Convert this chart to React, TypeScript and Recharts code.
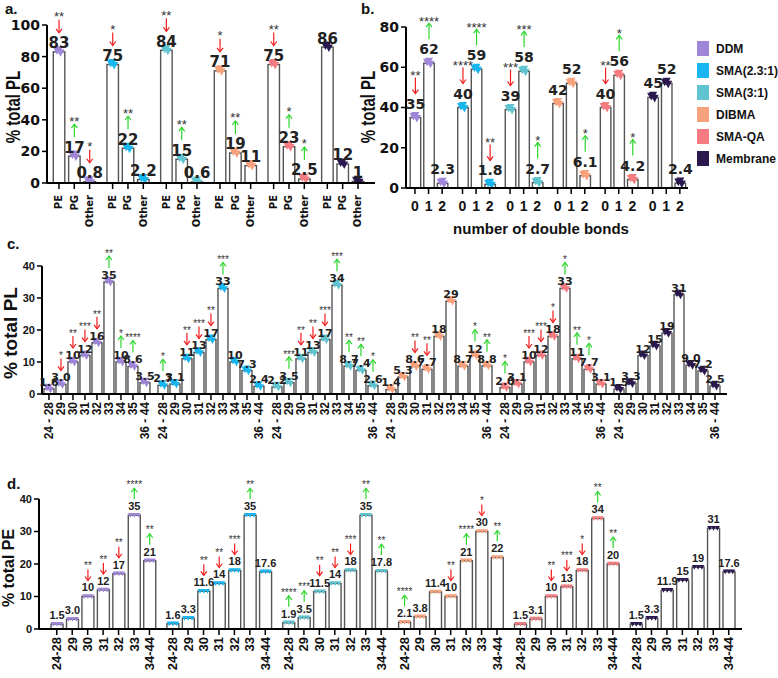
import React from 'react';
import { BarChart, Bar, XAxis, YAxis, LabelList } from 'recharts';

const SANS = '"Liberation Sans", Arial, sans-serif';
const WIDE = '"DejaVu Sans", "Liberation Sans", sans-serif';
const RED = '#f41c1c';
const GREEN = '#2bd62b';

const extracts = ['DDM', 'SMA(2.3:1)', 'SMA(3:1)', 'DIBMA', 'SMA-QA', 'Membrane'];
const extractColors = ['#9f86d8', '#17b6f0', '#5fc4cf', '#f7a27c', '#f47c80', '#2a184f'];

// a. headgroups
const headgroups = ['PE', 'PG', 'Other'];
const pctHeadgroup = [[83, 17, 0.8], [75, 22, 2.2], [84, 15, 0.6], [71, 19, 11], [75, 23, 2.5], [86, 12, 1]];
const starsHeadgroup = [['**', '**', '*'], ['*', '**', ''], ['**', '**', ''], ['*', '**', ''], ['**', '*', '*'], ['', '', '']];
const dirHeadgroup = [['d', 'u', 'd'], ['d', 'u', ''], ['d', 'u', ''], ['d', 'u', ''], ['d', 'u', 'u'], ['', '', '']];

// b. double bonds
const bondCounts = ['0', '1', '2'];
const pctBonds = [[35, 62, 2.3], [40, 59, 1.8], [39, 58, 2.7], [42, 52, 6.1], [40, 56, 4.2], [45, 52, 2.4]];
const starsBonds = [['**', '****', ''], ['****', '****', '**'], ['***', '***', '*'], ['', '', '*'], ['**', '*', '*'], ['', '', '']];
const dirBonds = [['d', 'u', ''], ['d', 'u', 'd'], ['d', 'u', 'u'], ['', '', 'u'], ['d', 'u', 'u'], ['', '', '']];

// c. PL chain length
const chainPL = ['24 - 28', '29', '30', '31', '32', '33', '34', '35', '36 - 44'];
const pctChainPL = [
  [1.6, 3.0, 10, 12, 16, 35, 10, 8.6, 3.5],
  [2.7, 3.1, 11, 13, 17, 33, 10, 7.3, 2.4],
  [2.2, 3.5, 11, 13, 17, 34, 8.7, 7.4, 2.6],
  [1.4, 5.3, 8.6, 7.7, 18, 29, 8.7, 12, 8.8],
  [2.0, 3.1, 10, 12, 18, 33, 11, 7.7, 3.1],
  [1.5, 3.3, 12, 15, 19, 31, 9.0, 7.2, 2.5],
];
const starsChainPL = [
  ['', '*', '**', '***', '**', '**', '*', '****', ''],
  ['*', '', '**', '***', '**', '***', '', '', ''],
  ['', '***', '**', '**', '***', '***', '**', '**', '*'],
  ['', '', '**', '**', '', '', '', '*', '**'],
  ['*', '', '***', '***', '*', '*', '**', '*', ''],
  ['', '', '', '', '', '', '', '', ''],
];
const dirChainPL = [
  ['', 'd', 'd', 'd', 'd', 'u', 'u', 'u', ''],
  ['u', '', 'd', 'd', 'd', 'u', '', '', ''],
  ['', 'u', 'd', 'd', 'd', 'u', 'u', 'u', 'u'],
  ['', '', 'd', 'd', '', '', '', 'u', 'u'],
  ['u', '', 'd', 'd', 'd', 'u', 'u', 'u', ''],
  ['', '', '', '', '', '', '', '', ''],
];

// d. PE chain length
const chainPE = ['24-28', '29', '30', '31', '32', '33', '34-44'];
const pctChainPE = [
  [1.5, 3.0, 10, 12, 17, 35, 21],
  [1.6, 3.3, 11.6, 14, 18, 35, 17.6],
  [1.9, 3.5, 11.5, 14, 18, 35, 17.8],
  [2.1, 3.8, 11.4, 10, 21, 30, 22],
  [1.5, 3.1, 10, 13, 18, 34, 20],
  [1.5, 3.3, 11.9, 15, 19, 31, 17.6],
];
const starsChainPE = [
  ['', '', '**', '**', '**', '****', '**'],
  ['', '', '**', '**', '***', '**', ''],
  ['****', '***', '**', '**', '***', '**', '**'],
  ['****', '', '', '**', '****', '*', '**'],
  ['', '', '**', '***', '*', '**', '**'],
  ['', '', '', '', '', '', ''],
];
const dirChainPE = [
  ['', '', 'd', 'd', 'd', 'u', 'u'],
  ['', '', 'd', 'd', 'd', 'u', ''],
  ['u', 'u', 'd', 'd', 'd', 'u', 'u'],
  ['u', '', '', 'd', 'u', 'd', 'u'],
  ['', '', 'd', 'd', 'd', 'u', 'u'],
  ['', '', '', '', '', '', ''],
];

type Row = { i: number; x: number; g: number; cat: string; value: number; stars: string; dir: string };

function buildRows(cats: string[], values: number[][], stars: string[][], dirs: string[][]): Row[] {
  const rows: Row[] = [];
  values.forEach((vals, g) => {
    vals.forEach((v, k) => {
      rows.push({ i: rows.length, x: g * (cats.length + 0.5) + k, g, cat: cats[k], value: v, stars: stars[g][k], dir: dirs[g][k] });
    });
  });
  return rows;
}

const fmtPlain = (v: number) => String(v);
const fmtOne = (v: number) => (Number.isInteger(v) && v >= 10 ? String(v) : v.toFixed(1));

const rotTick = (family: string, size: number, dy: number) => (p: any, label: string) => (
  <text
    transform={`translate(${p.x},${p.y + dy}) rotate(-90)`}
    textAnchor="end"
    dominantBaseline="central"
    fontFamily={family}
    fontWeight={700}
    fontSize={size}
    fill="#111"
  >
    {label}
  </text>
);

const flatTick = (p: any, label: string) => (
  <text x={p.x} y={p.y + 15} textAnchor="middle" fontFamily={SANS} fontWeight={700} fontSize={14} fill="#111">
    {label}
  </text>
);

const makeShape = (st: any) => (props: any) => {
  const { x, y, width, height, payload } = props;
  if (x == null || y == null) return <g />;
  const color = extractColors[payload.g];
  const cx = x + width / 2;
  const s = st.marker;
  const tri = (dx: number, dy: number, k: number) => (
    <path
      key={k}
      d={`M${cx + dx - s / 2},${y + dy - s * 0.45} L${cx + dx + s / 2},${y + dy - s * 0.45} L${cx + dx},${y + dy + s * 0.5} Z`}
      fill={color}
    />
  );
  const marks = st.rowMarks
    ? [tri(-s * 0.75, 0, 0), tri(0, 0, 1), tri(s * 0.75, 0, 2)]
    : [tri(-2, -1, 0), tri(1.5, 1, 1), tri(0, -2, 2)];
  return (
    <g>
      <rect x={x} y={y} width={width} height={height} fill="#fff" stroke="#555" strokeWidth={1.4} />
      {marks}
    </g>
  );
};

const makeAnno = (rows: Row[], st: any) => (props: any) => {
  const r = rows[props.value];
  const vb = props.viewBox ?? props;
  if (!r || vb == null || vb.x == null) return null;
  const cx = vb.x + vb.width / 2;
  const top = vb.y;
  const color = r.dir === 'd' ? RED : GREEN;
  const yA = top - st.arrow[1];
  const yB = top - st.arrow[0];
  const h = 3;
  return (
    <g>
      {r.stars ? (
        <g>
          <text x={cx} y={top - st.starsAt + st.starFont * 0.57} textAnchor="middle" fontFamily={SANS} fontSize={st.starFont} fill="#333">
            {r.stars}
          </text>
          <line x1={cx} x2={cx} y1={yA} y2={yB} stroke={color} strokeWidth={1.2} />
          {r.dir === 'd' ? (
            <polyline points={`${cx - h},${yB - h - 1} ${cx},${yB} ${cx + h},${yB - h - 1}`} fill="none" stroke={color} strokeWidth={1.2} />
          ) : (
            <polyline points={`${cx - h},${yA + h + 1} ${cx},${yA} ${cx + h},${yA + h + 1}`} fill="none" stroke={color} strokeWidth={1.2} />
          )}
        </g>
      ) : null}
      <text x={cx} y={top - st.labelAt + st.labelFont * 0.36} textAnchor="middle" fontFamily={st.labelFamily} fontWeight={700} fontSize={st.labelFont} fill="#222">
        {st.fmt(r.value)}
      </text>
    </g>
  );
};

function Panel({ rows, st }: { rows: Row[]; st: any }) {
  const xs = rows.map((r) => r.x);
  const catAt = (v: number) => rows.find((r) => Math.abs(r.x - v) < 1e-6)?.cat ?? '';
  return (
    <div style={{ position: 'absolute', left: st.left, top: st.top }}>
      <BarChart width={st.width} height={st.height} data={rows} margin={{ top: st.mTop, right: st.mRight, bottom: 0, left: 0 }}>
        <XAxis
          type="number"
          dataKey="x"
          domain={st.domain}
          allowDataOverflow
          ticks={xs}
          interval={0}
          height={st.xHeight}
          axisLine={{ stroke: '#000', strokeWidth: 2 }}
          tickLine={{ stroke: '#000', strokeWidth: 1.5 }}
          tickSize={6}
          tick={(p: any) => st.tick(p, catAt(p.payload.value))}
        />
        <YAxis
          type="number"
          domain={[0, st.yMax]}
          allowDataOverflow
          ticks={st.yTicks}
          interval={0}
          width={st.yWidth}
          axisLine={{ stroke: '#000', strokeWidth: 2 }}
          tickLine={{ stroke: '#000', strokeWidth: 1.5 }}
          tickSize={5}
          tick={{ fontSize: st.yFont, fontFamily: st.yFamily, fontWeight: 700, fill: '#111' }}
        />
        <Bar dataKey="value" barSize={st.barSize} isAnimationActive={false} shape={makeShape(st)}>
          <LabelList dataKey="i" content={makeAnno(rows, st)} />
        </Bar>
      </BarChart>
    </div>
  );
}

const rowsA = buildRows(headgroups, pctHeadgroup, starsHeadgroup, dirHeadgroup);
const rowsB = buildRows(bondCounts, pctBonds, starsBonds, dirBonds);
const rowsC = buildRows(chainPL, pctChainPL, starsChainPL, dirChainPL);
const rowsD = buildRows(chainPE, pctChainPE, starsChainPE, dirChainPE);

const stA = {
  left: 0, top: 0, width: 377, height: 232, mTop: 25, mRight: 2, yWidth: 47, xHeight: 49,
  yMax: 100, yTicks: [0, 20, 40, 60, 80, 100], domain: [-0.78, 20.61], barSize: 11.5,
  yFont: 14, yFamily: WIDE, tick: rotTick(WIDE, 10, 4),
  labelAt: 9, labelFont: 15, labelFamily: WIDE, arrow: [19, 32], starsAt: 38, starFont: 13,
  marker: 8, rowMarks: false, fmt: fmtPlain,
};
const stB = {
  left: 360, top: 0, width: 345, height: 238, mTop: 27, mRight: 17, yWidth: 46, xHeight: 50,
  yMax: 80, yTicks: [0, 20, 40, 60, 80], domain: [-0.66, 20.1], barSize: 10.5,
  yFont: 14, yFamily: WIDE, tick: flatTick,
  labelAt: 14, labelFont: 14, labelFamily: WIDE, arrow: [24, 40], starsAt: 45, starFont: 13,
  marker: 8, rowMarks: false, fmt: fmtOne,
};
const stC = {
  left: 2, top: 226, width: 737, height: 228, mTop: 40, mRight: 12, yWidth: 40, xHeight: 60,
  yMax: 40, yTicks: [0, 10, 20, 30, 40], domain: [-0.58, 56.5], barSize: 10,
  yFont: 11, yFamily: SANS, tick: rotTick(SANS, 12, 0),
  labelAt: 7, labelFont: 11, labelFamily: WIDE, arrow: [14, 26], starsAt: 31, starFont: 10,
  marker: 7, rowMarks: false, fmt: fmtOne,
};
const stD = {
  left: 2, top: 460, width: 752, height: 214, mTop: 39, mRight: 12, yWidth: 37, xHeight: 45,
  yMax: 40, yTicks: [0, 10, 20, 30, 40], domain: [-1.15, 44.36], barSize: 12,
  yFont: 11, yFamily: SANS, tick: rotTick(SANS, 13, 0),
  labelAt: 9, labelFont: 11, labelFamily: SANS, arrow: [16, 27], starsAt: 33, starFont: 10,
  marker: 5, rowMarks: true, fmt: fmtOne,
};

const txt = (s: string, x: number, y: number, size: number, extra: React.CSSProperties = {}) => (
  <div
    style={{
      position: 'absolute', left: x, top: y, fontFamily: SANS, fontWeight: 700, fontSize: size,
      whiteSpace: 'nowrap', color: '#111', lineHeight: 1, ...extra,
    }}
  >
    {s}
  </div>
);

const vTitle = (s: string, cx: number, cy: number, size: number, stretch: number) =>
  txt(s, cx, cy, size, { transform: `translate(-50%, -50%) rotate(-90deg) scale(1, ${stretch})` });

export default function App() {
  return (
    <div style={{ position: 'absolute', left: 0, top: 0, width: 778, height: 678, background: '#fff', overflow: 'hidden' }}>
      <Panel rows={rowsA} st={stA} />
      <Panel rows={rowsB} st={stB} />
      <Panel rows={rowsC} st={stC} />
      <Panel rows={rowsD} st={stD} />

      {txt('a.', 5, 1, 15)}
      {txt('b.', 361, 1, 15)}
      {txt('c.', 7, 236, 15)}
      {txt('d.', 7, 476, 15)}

      {vTitle('% total PL', 12, 107, 15, 1.4)}
      {vTitle('% total PL', 367, 107, 15, 1.4)}
      {vTitle('% total PL', 10, 333, 19, 1)}
      {vTitle('% total PE', 9, 568, 16, 1)}

      {txt('number of double bonds', 541, 228, 15, { transform: 'translate(-50%, -50%)' })}

      {extracts.map((name, k) => (
        <div key={name} style={{ position: 'absolute', left: 697, top: 49 + k * 22 - 8, display: 'flex', alignItems: 'center' }}>
          <div style={{ width: 12, height: 15, background: extractColors[k] }} />
          <div style={{ marginLeft: 7, fontFamily: SANS, fontWeight: 700, fontSize: 12, color: '#111' }}>{name}</div>
        </div>
      ))}
    </div>
  );
}
